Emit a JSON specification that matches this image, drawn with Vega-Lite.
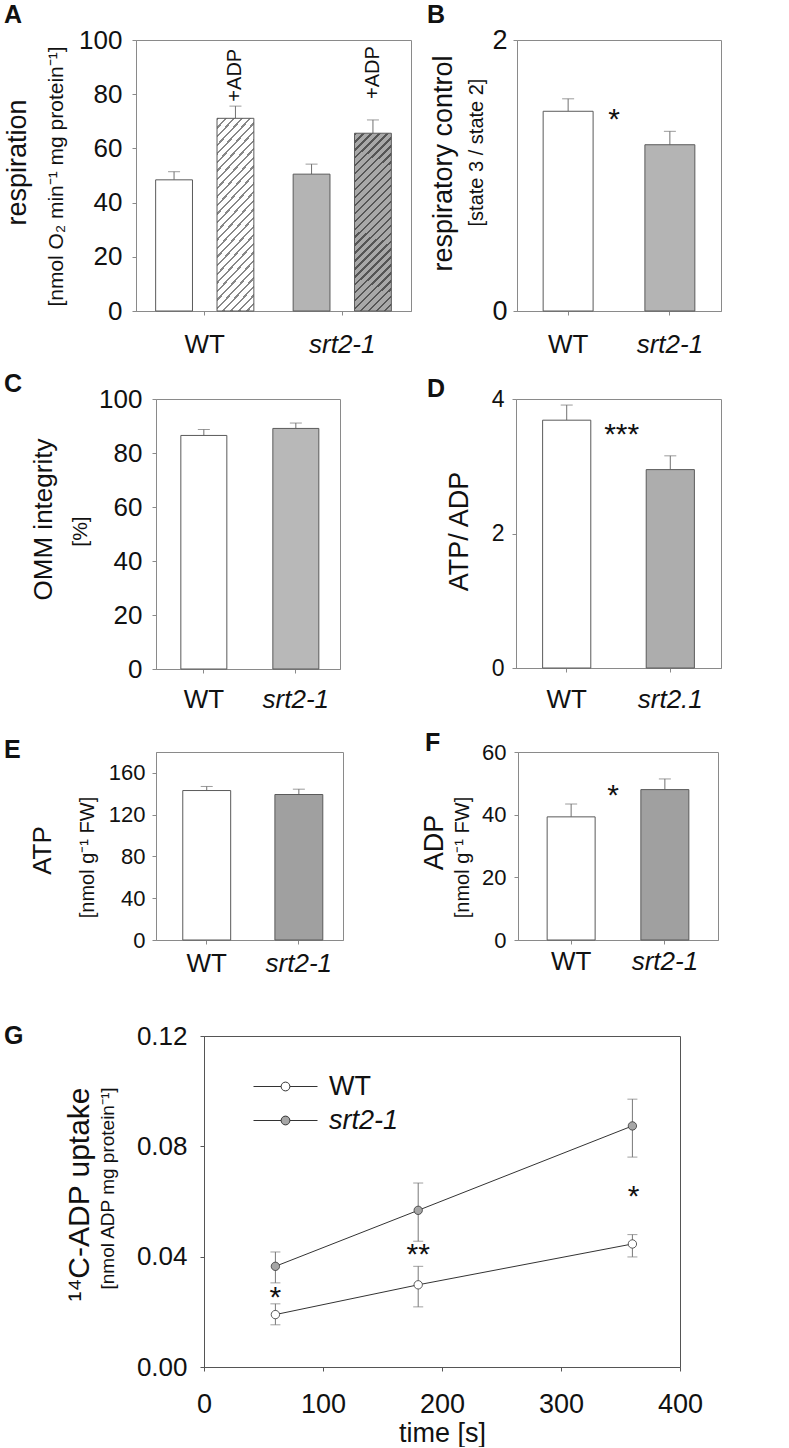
{
"$schema": "https://vega.github.io/schema/vega-lite/v6.json",
"background": "white",
"padding": {"left": 0, "top": 0, "right": 0, "bottom": 0},
"config": {
 "font": "Liberation Sans",
 "view": {"stroke": "#8a8a8a", "strokeWidth": 1},
 "axis": {"domainColor": "#8a8a8a", "tickColor": "#8a8a8a", "tickSize": 4, "labelColor": "#111111", "titleColor": "#111111", "titleFontWeight": "normal", "grid": false, "labelFont": "Liberation Sans", "titleFont": "Liberation Sans"},
 "title": {"font": "Liberation Sans", "fontWeight": "bold", "fontSize": 25, "color": "#111111", "anchor": "start", "frame": "group", "baseline": "alphabetic"},
 "text": {"font": "Liberation Sans", "color": "#111111"},
 "legend": {"labelFont": "Liberation Sans", "labelColor": "#111111"}
},
"resolve": {"scale": {"fill": "independent"}, "legend": {"fill": "independent"}},
"concat": [
 {"hconcat": [
  {"width": 3, "height": 1, "view": {"stroke": null}, "data": {"values": [{"a": 0}]}, "mark": {"type": "point", "size": 0, "opacity": 0, "strokeWidth": 0, "filled": true},
   "encoding": {"x": {"field": "a", "type": "quantitative", "axis": {"orient": "top", "labels": false, "ticks": false, "domainOpacity": 0, "title": null, "grid": false, "minExtent": 40, "maxExtent": 40}}}},
  {
   "title": {"text": "A", "dx": -132, "offset": -1},
   "width": 275, "height": 271,
   "data": {"values": [
     {"g": "WT", "t": "ctrl", "v": 48.4, "e": 51.4},
     {"g": "WT", "t": "ADP", "v": 71.1, "e": 75.6},
     {"g": "srt2-1", "t": "ctrl", "v": 50.5, "e": 54.2},
     {"g": "srt2-1", "t": "ADP", "v": 65.6, "e": 70.5}
   ]},
   "encoding": {
     "x": {"field": "g", "type": "nominal", "scale": {"domain": ["WT", "srt2-1"], "paddingInner": 0, "paddingOuter": 0},
       "axis": {"title": null, "labelAngle": 0, "labelFontSize": 26, "labelPadding": 16, "minExtent": 50, "maxExtent": 50, "labelFontStyle": {"condition": {"test": "datum.value !== 'WT'", "value": "italic"}, "value": "normal"}}},
     "xOffset": {"field": "t", "type": "nominal", "scale": {"domain": ["ctrl", "ADP"], "paddingInner": 0.4, "paddingOuter": 0.32}}
   },
   "layer": [
     {"mark": {"type": "rule", "color": "#707070"},
      "encoding": {
        "y": {"field": "v", "type": "quantitative", "scale": {"domain": [0, 100], "nice": false},
          "axis": {"orient": "left", "title": "[nmol O₂ min⁻¹ mg protein⁻¹]", "titleFontSize": 21, "titleX": -80, "titleY": 136, "titleAngle": 270, "titleBaseline": "middle", "titleAlign": "center", "labels": false, "ticks": false, "domain": false, "minExtent": 132, "maxExtent": 132}},
        "y2": {"field": "e"}}},
     {"layer": [
       {"transform": [{"filter": "datum.t === 'ctrl'"}],
        "mark": {"type": "bar", "stroke": "#5a5a5a", "strokeWidth": 1},
        "encoding": {
          "y": {"field": "v", "type": "quantitative", "scale": {"domain": [0, 100], "nice": false},
            "axis": {"orient": "left", "title": "respiration", "titleFontSize": 27, "titleX": -118.5, "titleY": 122, "titleAngle": 270, "titleBaseline": "middle", "titleAlign": "center", "values": [0, 20, 40, 60, 80, 100], "labelFontSize": 26, "labelPadding": 10}},
          "fill": {"field": "g", "type": "nominal", "scale": {"domain": ["WT", "srt2-1"], "range": ["#ffffff", "#b4b4b4"]}, "legend": null}}},
       {"transform": [{"filter": "datum.t === 'ADP' && datum.g === 'WT'"}],
        "mark": {"type": "bar", "stroke": "#5a5a5a", "strokeWidth": 1, "fill": {"gradient": "linear", "x1": 0, "y1": 0, "x2": 0.237, "y2": 1.157, "stops": [
{"offset":0,"color":"#888"},{"offset":0.01,"color":"#888"},{"offset":0.01,"color":"#fff"},{"offset":0.037,"color":"#fff"},
{"offset":0.037,"color":"#888"},{"offset":0.047,"color":"#888"},{"offset":0.047,"color":"#fff"},{"offset":0.0741,"color":"#fff"},
{"offset":0.0741,"color":"#888"},{"offset":0.0841,"color":"#888"},{"offset":0.0841,"color":"#fff"},{"offset":0.1111,"color":"#fff"},
{"offset":0.1111,"color":"#888"},{"offset":0.1211,"color":"#888"},{"offset":0.1211,"color":"#fff"},{"offset":0.1481,"color":"#fff"},
{"offset":0.1481,"color":"#888"},{"offset":0.1581,"color":"#888"},{"offset":0.1581,"color":"#fff"},{"offset":0.1852,"color":"#fff"},
{"offset":0.1852,"color":"#888"},{"offset":0.1952,"color":"#888"},{"offset":0.1952,"color":"#fff"},{"offset":0.2222,"color":"#fff"},
{"offset":0.2222,"color":"#888"},{"offset":0.2322,"color":"#888"},{"offset":0.2322,"color":"#fff"},{"offset":0.2593,"color":"#fff"},
{"offset":0.2593,"color":"#888"},{"offset":0.2693,"color":"#888"},{"offset":0.2693,"color":"#fff"},{"offset":0.2963,"color":"#fff"},
{"offset":0.2963,"color":"#888"},{"offset":0.3063,"color":"#888"},{"offset":0.3063,"color":"#fff"},{"offset":0.3333,"color":"#fff"},
{"offset":0.3333,"color":"#888"},{"offset":0.3433,"color":"#888"},{"offset":0.3433,"color":"#fff"},{"offset":0.3704,"color":"#fff"},
{"offset":0.3704,"color":"#888"},{"offset":0.3804,"color":"#888"},{"offset":0.3804,"color":"#fff"},{"offset":0.4074,"color":"#fff"},
{"offset":0.4074,"color":"#888"},{"offset":0.4174,"color":"#888"},{"offset":0.4174,"color":"#fff"},{"offset":0.4444,"color":"#fff"},
{"offset":0.4444,"color":"#888"},{"offset":0.4544,"color":"#888"},{"offset":0.4544,"color":"#fff"},{"offset":0.4815,"color":"#fff"},
{"offset":0.4815,"color":"#888"},{"offset":0.4915,"color":"#888"},{"offset":0.4915,"color":"#fff"},{"offset":0.5185,"color":"#fff"},
{"offset":0.5185,"color":"#888"},{"offset":0.5285,"color":"#888"},{"offset":0.5285,"color":"#fff"},{"offset":0.5556,"color":"#fff"},
{"offset":0.5556,"color":"#888"},{"offset":0.5656,"color":"#888"},{"offset":0.5656,"color":"#fff"},{"offset":0.5926,"color":"#fff"},
{"offset":0.5926,"color":"#888"},{"offset":0.6026,"color":"#888"},{"offset":0.6026,"color":"#fff"},{"offset":0.6296,"color":"#fff"},
{"offset":0.6296,"color":"#888"},{"offset":0.6396,"color":"#888"},{"offset":0.6396,"color":"#fff"},{"offset":0.6667,"color":"#fff"},
{"offset":0.6667,"color":"#888"},{"offset":0.6767,"color":"#888"},{"offset":0.6767,"color":"#fff"},{"offset":0.7037,"color":"#fff"},
{"offset":0.7037,"color":"#888"},{"offset":0.7137,"color":"#888"},{"offset":0.7137,"color":"#fff"},{"offset":0.7407,"color":"#fff"},
{"offset":0.7407,"color":"#888"},{"offset":0.7507,"color":"#888"},{"offset":0.7507,"color":"#fff"},{"offset":0.7778,"color":"#fff"},
{"offset":0.7778,"color":"#888"},{"offset":0.7878,"color":"#888"},{"offset":0.7878,"color":"#fff"},{"offset":0.8148,"color":"#fff"},
{"offset":0.8148,"color":"#888"},{"offset":0.8248,"color":"#888"},{"offset":0.8248,"color":"#fff"},{"offset":0.8519,"color":"#fff"},
{"offset":0.8519,"color":"#888"},{"offset":0.8619,"color":"#888"},{"offset":0.8619,"color":"#fff"},{"offset":0.8889,"color":"#fff"},
{"offset":0.8889,"color":"#888"},{"offset":0.8989,"color":"#888"},{"offset":0.8989,"color":"#fff"},{"offset":0.9259,"color":"#fff"},
{"offset":0.9259,"color":"#888"},{"offset":0.9359,"color":"#888"},{"offset":0.9359,"color":"#fff"},{"offset":0.963,"color":"#fff"},
{"offset":0.963,"color":"#888"},{"offset":0.973,"color":"#888"},{"offset":0.973,"color":"#fff"},{"offset":1,"color":"#fff"}
        ]}},
        "encoding": {"y": {"field": "v", "type": "quantitative"}}},
       {"transform": [{"filter": "datum.t === 'ADP' && datum.g === 'srt2-1'"}],
        "mark": {"type": "bar", "stroke": "#5a5a5a", "strokeWidth": 1, "fill": {"gradient": "linear", "x1": 0, "y1": 0, "x2": 0.237, "y2": 1.157, "stops": [
{"offset":0,"color":"#555"},{"offset":0.011,"color":"#555"},{"offset":0.011,"color":"#a8a8a8"},{"offset":0.037,"color":"#a8a8a8"},
{"offset":0.037,"color":"#555"},{"offset":0.048,"color":"#555"},{"offset":0.048,"color":"#a8a8a8"},{"offset":0.0741,"color":"#a8a8a8"},
{"offset":0.0741,"color":"#555"},{"offset":0.0851,"color":"#555"},{"offset":0.0851,"color":"#a8a8a8"},{"offset":0.1111,"color":"#a8a8a8"},
{"offset":0.1111,"color":"#555"},{"offset":0.1221,"color":"#555"},{"offset":0.1221,"color":"#a8a8a8"},{"offset":0.1481,"color":"#a8a8a8"},
{"offset":0.1481,"color":"#555"},{"offset":0.1591,"color":"#555"},{"offset":0.1591,"color":"#a8a8a8"},{"offset":0.1852,"color":"#a8a8a8"},
{"offset":0.1852,"color":"#555"},{"offset":0.1962,"color":"#555"},{"offset":0.1962,"color":"#a8a8a8"},{"offset":0.2222,"color":"#a8a8a8"},
{"offset":0.2222,"color":"#555"},{"offset":0.2332,"color":"#555"},{"offset":0.2332,"color":"#a8a8a8"},{"offset":0.2593,"color":"#a8a8a8"},
{"offset":0.2593,"color":"#555"},{"offset":0.2703,"color":"#555"},{"offset":0.2703,"color":"#a8a8a8"},{"offset":0.2963,"color":"#a8a8a8"},
{"offset":0.2963,"color":"#555"},{"offset":0.3073,"color":"#555"},{"offset":0.3073,"color":"#a8a8a8"},{"offset":0.3333,"color":"#a8a8a8"},
{"offset":0.3333,"color":"#555"},{"offset":0.3443,"color":"#555"},{"offset":0.3443,"color":"#a8a8a8"},{"offset":0.3704,"color":"#a8a8a8"},
{"offset":0.3704,"color":"#555"},{"offset":0.3814,"color":"#555"},{"offset":0.3814,"color":"#a8a8a8"},{"offset":0.4074,"color":"#a8a8a8"},
{"offset":0.4074,"color":"#555"},{"offset":0.4184,"color":"#555"},{"offset":0.4184,"color":"#a8a8a8"},{"offset":0.4444,"color":"#a8a8a8"},
{"offset":0.4444,"color":"#555"},{"offset":0.4554,"color":"#555"},{"offset":0.4554,"color":"#a8a8a8"},{"offset":0.4815,"color":"#a8a8a8"},
{"offset":0.4815,"color":"#555"},{"offset":0.4925,"color":"#555"},{"offset":0.4925,"color":"#a8a8a8"},{"offset":0.5185,"color":"#a8a8a8"},
{"offset":0.5185,"color":"#555"},{"offset":0.5295,"color":"#555"},{"offset":0.5295,"color":"#a8a8a8"},{"offset":0.5556,"color":"#a8a8a8"},
{"offset":0.5556,"color":"#555"},{"offset":0.5666,"color":"#555"},{"offset":0.5666,"color":"#a8a8a8"},{"offset":0.5926,"color":"#a8a8a8"},
{"offset":0.5926,"color":"#555"},{"offset":0.6036,"color":"#555"},{"offset":0.6036,"color":"#a8a8a8"},{"offset":0.6296,"color":"#a8a8a8"},
{"offset":0.6296,"color":"#555"},{"offset":0.6406,"color":"#555"},{"offset":0.6406,"color":"#a8a8a8"},{"offset":0.6667,"color":"#a8a8a8"},
{"offset":0.6667,"color":"#555"},{"offset":0.6777,"color":"#555"},{"offset":0.6777,"color":"#a8a8a8"},{"offset":0.7037,"color":"#a8a8a8"},
{"offset":0.7037,"color":"#555"},{"offset":0.7147,"color":"#555"},{"offset":0.7147,"color":"#a8a8a8"},{"offset":0.7407,"color":"#a8a8a8"},
{"offset":0.7407,"color":"#555"},{"offset":0.7517,"color":"#555"},{"offset":0.7517,"color":"#a8a8a8"},{"offset":0.7778,"color":"#a8a8a8"},
{"offset":0.7778,"color":"#555"},{"offset":0.7888,"color":"#555"},{"offset":0.7888,"color":"#a8a8a8"},{"offset":0.8148,"color":"#a8a8a8"},
{"offset":0.8148,"color":"#555"},{"offset":0.8258,"color":"#555"},{"offset":0.8258,"color":"#a8a8a8"},{"offset":0.8519,"color":"#a8a8a8"},
{"offset":0.8519,"color":"#555"},{"offset":0.8629,"color":"#555"},{"offset":0.8629,"color":"#a8a8a8"},{"offset":0.8889,"color":"#a8a8a8"},
{"offset":0.8889,"color":"#555"},{"offset":0.8999,"color":"#555"},{"offset":0.8999,"color":"#a8a8a8"},{"offset":0.9259,"color":"#a8a8a8"},
{"offset":0.9259,"color":"#555"},{"offset":0.9369,"color":"#555"},{"offset":0.9369,"color":"#a8a8a8"},{"offset":0.963,"color":"#a8a8a8"},
{"offset":0.963,"color":"#555"},{"offset":0.974,"color":"#555"},{"offset":0.974,"color":"#a8a8a8"},{"offset":1,"color":"#a8a8a8"}
        ]}},
        "encoding": {"y": {"field": "v", "type": "quantitative"}}},
       {"mark": {"type": "tick", "color": "#707070", "size": 12, "thickness": 1},
        "encoding": {"y": {"field": "e", "type": "quantitative"}}},
       {"data": {"values": [{"g": "WT", "t": "ADP", "y": 87, "label": "+ADP"}, {"g": "srt2-1", "t": "ADP", "y": 88, "label": "+ADP"}]},
        "mark": {"type": "text", "angle": 270, "fontSize": 20, "baseline": "middle", "align": "center"},
        "encoding": {"y": {"field": "y", "type": "quantitative"}, "text": {"field": "label"}}}
     ]}
   ],
   "resolve": {"scale": {"y": "independent"}}
  },
  {
   "title": {"text": "B", "dx": -90, "offset": -2},
   "width": 204, "height": 271,
   "data": {"values": [{"g": "WT", "v": 1.474, "e": 1.566}, {"g": "srt2-1", "v": 1.227, "e": 1.326}]},
   "encoding": {
     "x": {"field": "g", "type": "nominal", "scale": {"domain": ["WT", "srt2-1"], "paddingInner": 0.509, "paddingOuter": 0.257},
       "axis": {"title": null, "labelAngle": 0, "labelFontSize": 26, "labelPadding": 16, "minExtent": 50, "maxExtent": 50, "labelFontStyle": {"condition": {"test": "datum.value !== 'WT'", "value": "italic"}, "value": "normal"}}}
   },
   "layer": [
     {"mark": {"type": "rule", "color": "#707070"},
      "encoding": {
        "y": {"field": "v", "type": "quantitative", "scale": {"domain": [0, 2], "nice": false},
          "axis": {"orient": "left", "title": "[state 3 / state 2]", "titleFontSize": 20, "titleX": -41, "titleY": 112, "titleAngle": 270, "titleBaseline": "middle", "titleAlign": "center", "labels": false, "ticks": false, "domain": false, "minExtent": 104, "maxExtent": 104}},
        "y2": {"field": "e"}}},
     {"layer": [
       {"mark": {"type": "bar", "stroke": "#5a5a5a", "strokeWidth": 1},
        "encoding": {
          "y": {"field": "v", "type": "quantitative", "scale": {"domain": [0, 2], "nice": false},
            "axis": {"orient": "left", "title": "respiratory control", "titleFontSize": 27, "titleX": -74, "titleY": 123, "titleAngle": 270, "titleBaseline": "middle", "titleAlign": "center", "values": [0, 1, 2], "format": "d", "labelFontSize": 27, "labelPadding": 6}},
          "fill": {"field": "g", "type": "nominal", "scale": {"domain": ["WT", "srt2-1"], "range": ["#ffffff", "#b4b4b4"]}, "legend": null}}},
       {"mark": {"type": "tick", "color": "#707070", "size": 12, "thickness": 1},
        "encoding": {"y": {"field": "e", "type": "quantitative"}}},
       {"data": {"values": [{"g": "WT", "y": 1.41, "s": "*"}]},
        "mark": {"type": "text", "fontSize": 30, "baseline": "middle", "align": "center", "dx": 46},
        "encoding": {"y": {"field": "y", "type": "quantitative"}, "text": {"field": "s"}}}
     ]}
   ],
   "resolve": {"scale": {"y": "independent"}}
  }
 ], "spacing": 0, "resolve": {"scale": {"fill": "independent"}, "legend": {"fill": "independent"}}},
 {"hconcat": [
  {"width": 3, "height": 1, "view": {"stroke": null}, "data": {"values": [{"a": 0}]}, "mark": {"type": "point", "size": 0, "opacity": 0, "strokeWidth": 0, "filled": true},
   "encoding": {"x": {"field": "a", "type": "quantitative", "axis": {"orient": "top", "labels": false, "ticks": false, "domainOpacity": 0, "title": null, "grid": false, "minExtent": 37, "maxExtent": 37}}}},
  {
   "title": {"text": "C", "dx": -152, "offset": -11},
   "width": 184, "height": 270,
   "data": {"values": [{"g": "WT", "v": 86.5, "e": 88.7}, {"g": "srt2-1", "v": 89.1, "e": 91.1}]},
   "encoding": {
     "x": {"field": "g", "type": "nominal", "scale": {"domain": ["WT", "srt2-1"], "paddingInner": 0.5, "paddingOuter": 0.25, "align": 0.54},
       "axis": {"title": null, "labelAngle": 0, "labelFontSize": 26, "labelPadding": 13, "minExtent": 50, "maxExtent": 50, "labelFontStyle": {"condition": {"test": "datum.value !== 'WT'", "value": "italic"}, "value": "normal"}}}
   },
   "layer": [
     {"mark": {"type": "rule", "color": "#707070"},
      "encoding": {
        "y": {"field": "v", "type": "quantitative", "scale": {"domain": [0, 100], "nice": false},
          "axis": {"orient": "left", "title": "[%]", "titleFontSize": 21, "titleX": -76, "titleY": 132, "titleAngle": 270, "titleBaseline": "middle", "titleAlign": "center", "labels": false, "ticks": false, "domain": false, "minExtent": 152, "maxExtent": 152}},
        "y2": {"field": "e"}}},
     {"layer": [
       {"mark": {"type": "bar", "stroke": "#5a5a5a", "strokeWidth": 1},
        "encoding": {
          "y": {"field": "v", "type": "quantitative", "scale": {"domain": [0, 100], "nice": false},
            "axis": {"orient": "left", "title": "OMM integrity", "titleFontSize": 26, "titleX": -113, "titleY": 120, "titleAngle": 270, "titleBaseline": "middle", "titleAlign": "center", "values": [0, 20, 40, 60, 80, 100], "labelFontSize": 26, "labelPadding": 10}},
          "fill": {"field": "g", "type": "nominal", "scale": {"domain": ["WT", "srt2-1"], "range": ["#ffffff", "#b8b8b8"]}, "legend": null}}},
       {"mark": {"type": "tick", "color": "#707070", "size": 12, "thickness": 1},
        "encoding": {"y": {"field": "e", "type": "quantitative"}}}
     ]}
   ],
   "resolve": {"scale": {"y": "independent"}}
  },
  {
   "title": {"text": "D", "dx": -89, "offset": -14},
   "width": 205, "height": 269,
   "data": {"values": [{"g": "WT", "v": 3.685, "e": 3.91}, {"g": "srt2.1", "v": 2.95, "e": 3.155}]},
   "encoding": {
     "x": {"field": "g", "type": "nominal", "scale": {"domain": ["WT", "srt2.1"], "paddingInner": 0.535, "paddingOuter": 0.257},
       "axis": {"title": null, "labelAngle": 0, "labelFontSize": 26, "labelPadding": 14, "minExtent": 51, "maxExtent": 51, "labelFontStyle": {"condition": {"test": "datum.value !== 'WT'", "value": "italic"}, "value": "normal"}}}
   },
   "layer": [
     {"mark": {"type": "rule", "color": "#707070"},
      "encoding": {
        "y": {"field": "v", "type": "quantitative", "scale": {"domain": [0, 4], "nice": false},
          "axis": {"orient": "left", "title": "ATP/ ADP", "titleFontSize": 27, "titleX": -56.5, "titleY": 132, "titleAngle": 270, "titleBaseline": "middle", "titleAlign": "center", "values": [0, 2, 4], "format": "d", "labelFontSize": 23, "labelPadding": 8, "minExtent": 174, "maxExtent": 174}},
        "y2": {"field": "e"}}},
     {"mark": {"type": "bar", "stroke": "#5a5a5a", "strokeWidth": 1},
      "encoding": {
        "y": {"field": "v", "type": "quantitative"},
        "fill": {"field": "g", "type": "nominal", "scale": {"domain": ["WT", "srt2.1"], "range": ["#ffffff", "#adadad"]}, "legend": null}}},
     {"mark": {"type": "tick", "color": "#707070", "size": 12, "thickness": 1},
      "encoding": {"y": {"field": "e", "type": "quantitative"}}},
     {"data": {"values": [{"g": "WT", "y": 3.47, "s": "***"}]},
      "mark": {"type": "text", "fontSize": 30, "baseline": "middle", "align": "center", "dx": 55},
      "encoding": {"y": {"field": "y", "type": "quantitative"}, "text": {"field": "s"}}}
   ]
  }
 ], "spacing": 0, "resolve": {"scale": {"fill": "independent"}, "legend": {"fill": "independent"}}},
 {"hconcat": [
  {"width": 3, "height": 1, "view": {"stroke": null}, "data": {"values": [{"a": 0}]}, "mark": {"type": "point", "size": 0, "opacity": 0, "strokeWidth": 0, "filled": true},
   "encoding": {"x": {"field": "a", "type": "quantitative", "axis": {"orient": "top", "labels": false, "ticks": false, "domainOpacity": 0, "title": null, "grid": false, "minExtent": 32, "maxExtent": 32}}}},
  {
   "title": {"text": "E", "dx": -152, "offset": -11},
   "width": 187, "height": 188,
   "data": {"values": [{"g": "WT", "v": 143.1, "e": 147}, {"g": "srt2-1", "v": 139.3, "e": 144.4}]},
   "encoding": {
     "x": {"field": "g", "type": "nominal", "scale": {"domain": ["WT", "srt2-1"], "paddingInner": 0.48, "paddingOuter": 0.255, "align": 0.57},
       "axis": {"title": null, "labelAngle": 0, "labelFontSize": 26, "labelPadding": 6, "minExtent": 50, "maxExtent": 50, "labelFontStyle": {"condition": {"test": "datum.value !== 'WT'", "value": "italic"}, "value": "normal"}}}
   },
   "layer": [
     {"mark": {"type": "rule", "color": "#707070"},
      "encoding": {
        "y": {"field": "v", "type": "quantitative", "scale": {"domain": [0, 180], "nice": false},
          "axis": {"orient": "left", "title": "[nmol g⁻¹ FW]", "titleFontSize": 20, "titleX": -69, "titleY": 105, "titleAngle": 270, "titleBaseline": "middle", "titleAlign": "center", "labels": false, "ticks": false, "domain": false, "minExtent": 152, "maxExtent": 152}},
        "y2": {"field": "e"}}},
     {"layer": [
       {"mark": {"type": "bar", "stroke": "#5a5a5a", "strokeWidth": 1},
        "encoding": {
          "y": {"field": "v", "type": "quantitative", "scale": {"domain": [0, 180], "nice": false},
            "axis": {"orient": "left", "title": "ATP", "titleFontSize": 26, "titleX": -113.5, "titleY": 98, "titleAngle": 270, "titleBaseline": "middle", "titleAlign": "center", "values": [0, 40, 80, 120, 160], "labelFontSize": 22, "labelPadding": 7}},
          "fill": {"field": "g", "type": "nominal", "scale": {"domain": ["WT", "srt2-1"], "range": ["#ffffff", "#a0a0a0"]}, "legend": null}}},
       {"mark": {"type": "tick", "color": "#707070", "size": 12, "thickness": 1},
        "encoding": {"y": {"field": "e", "type": "quantitative"}}}
     ]}
   ],
   "resolve": {"scale": {"y": "independent"}}
  },
  {
   "title": {"text": "F", "dx": -93, "offset": -15},
   "width": 200, "height": 188,
   "data": {"values": [{"g": "WT", "v": 39.3, "e": 43.4}, {"g": "srt2-1", "v": 48.0, "e": 51.4}]},
   "encoding": {
     "x": {"field": "g", "type": "nominal", "scale": {"domain": ["WT", "srt2-1"], "paddingInner": 0.488, "paddingOuter": 0.311},
       "axis": {"title": null, "labelAngle": 0, "labelFontSize": 26, "labelPadding": 4, "minExtent": 50, "maxExtent": 50, "labelFontStyle": {"condition": {"test": "datum.value !== 'WT'", "value": "italic"}, "value": "normal"}}}
   },
   "layer": [
     {"mark": {"type": "rule", "color": "#707070"},
      "encoding": {
        "y": {"field": "v", "type": "quantitative", "scale": {"domain": [0, 60], "nice": false},
          "axis": {"orient": "left", "title": "[nmol g⁻¹ FW]", "titleFontSize": 20, "titleX": -56, "titleY": 105, "titleAngle": 270, "titleBaseline": "middle", "titleAlign": "center", "labels": false, "ticks": false, "domain": false, "minExtent": 173, "maxExtent": 173}},
        "y2": {"field": "e"}}},
     {"layer": [
       {"mark": {"type": "bar", "stroke": "#5a5a5a", "strokeWidth": 1},
        "encoding": {
          "y": {"field": "v", "type": "quantitative", "scale": {"domain": [0, 60], "nice": false},
            "axis": {"orient": "left", "title": "ADP", "titleFontSize": 27, "titleX": -83.5, "titleY": 90, "titleAngle": 270, "titleBaseline": "middle", "titleAlign": "center", "values": [0, 20, 40, 60], "labelFontSize": 22, "labelPadding": 8}},
          "fill": {"field": "g", "type": "nominal", "scale": {"domain": ["WT", "srt2-1"], "range": ["#ffffff", "#a0a0a0"]}, "legend": null}}},
       {"mark": {"type": "tick", "color": "#707070", "size": 12, "thickness": 1},
        "encoding": {"y": {"field": "e", "type": "quantitative"}}},
       {"data": {"values": [{"g": "WT", "y": 45.9, "s": "*"}]},
        "mark": {"type": "text", "fontSize": 30, "baseline": "middle", "align": "center", "dx": 42},
        "encoding": {"y": {"field": "y", "type": "quantitative"}, "text": {"field": "s"}}}
     ]}
   ],
   "resolve": {"scale": {"y": "independent"}}
  }
 ], "spacing": 0, "resolve": {"scale": {"fill": "independent"}, "legend": {"fill": "independent"}}},
 {"hconcat": [
  {"width": 3, "height": 1, "view": {"stroke": null}, "data": {"values": [{"a": 0}]}, "mark": {"type": "point", "size": 0, "opacity": 0, "strokeWidth": 0, "filled": true},
   "encoding": {"x": {"field": "a", "type": "quantitative", "axis": {"orient": "top", "labels": false, "ticks": false, "domainOpacity": 0, "title": null, "grid": false, "minExtent": 45, "maxExtent": 45}}}},
  {
   "title": {"text": "G", "dx": -200, "offset": -26},
   "width": 476, "height": 331,
   "view": {"stroke": "#555555"},
   "data": {"values": [
     {"t": 60, "g": "WT", "v": 0.0190, "lo": 0.0153, "hi": 0.0229},
     {"t": 180, "g": "WT", "v": 0.0298, "lo": 0.0218, "hi": 0.0365},
     {"t": 360, "g": "WT", "v": 0.0446, "lo": 0.0399, "hi": 0.0480},
     {"t": 60, "g": "srt2-1", "v": 0.0365, "lo": 0.0305, "hi": 0.0417},
     {"t": 180, "g": "srt2-1", "v": 0.0568, "lo": 0.0456, "hi": 0.0667},
     {"t": 360, "g": "srt2-1", "v": 0.0874, "lo": 0.0761, "hi": 0.0971}
   ]},
   "encoding": {
     "x": {"field": "t", "type": "quantitative", "scale": {"domain": [0, 400], "nice": false},
       "axis": {"values": [0, 100, 200, 300, 400], "labelFontSize": 27, "labelPadding": 20, "labelFlush": false, "labelOverlap": false, "title": "time [s]", "titleFontSize": 27, "titlePadding": 3, "domainColor": "#555555", "tickColor": "#555555"}}
   },
   "layer": [
     {"mark": {"type": "rule", "color": "#777777"},
      "encoding": {
        "y": {"field": "lo", "type": "quantitative", "scale": {"domain": [0, 0.12], "nice": false},
          "axis": {"orient": "left", "title": "[nmol ADP mg protein⁻¹]", "titleFontSize": 19, "titleX": -97, "titleY": 152, "titleAngle": 270, "titleBaseline": "middle", "titleAlign": "center", "labels": false, "ticks": false, "domain": false, "minExtent": 200, "maxExtent": 200}},
        "y2": {"field": "hi"}}},
     {"layer": [
       {"mark": {"type": "tick", "orient": "horizontal", "color": "#777777", "size": 10, "thickness": 1},
        "encoding": {"y": {"field": "lo", "type": "quantitative", "scale": {"domain": [0, 0.12], "nice": false},
          "axis": {"orient": "left", "title": "¹⁴C-ADP uptake", "titleFontSize": 30, "titleX": -125, "titleY": 158, "titleAngle": 270, "titleBaseline": "middle", "titleAlign": "center", "values": [0, 0.04, 0.08, 0.12], "format": ".2f", "labelFontSize": 26, "labelPadding": 13, "domainColor": "#555555", "tickColor": "#555555"}}}},
       {"mark": {"type": "tick", "orient": "horizontal", "color": "#777777", "size": 10, "thickness": 1},
        "encoding": {"y": {"field": "hi", "type": "quantitative"}}},
       {"mark": {"type": "line", "color": "#333333", "strokeWidth": 1},
        "encoding": {"y": {"field": "v", "type": "quantitative"}, "detail": {"field": "g", "type": "nominal"}}},
       {"mark": {"type": "point", "filled": true, "size": 70, "stroke": "#333333", "strokeWidth": 0.8, "opacity": 1},
        "encoding": {
          "y": {"field": "v", "type": "quantitative"},
          "fill": {"field": "g", "type": "nominal", "scale": {"domain": ["WT", "srt2-1"], "range": ["#ffffff", "#a6a6a6"]},
            "legend": {"orient": "none", "legendX": 68, "legendY": 37, "title": null, "symbolType": "M-4,0L-0.55,0M0.55,0L4,0M0.55,0A0.55,0.55,0,1,1,-0.55,0A0.55,0.55,0,1,1,0.55,0Z", "symbolSize": 256, "symbolStrokeColor": "#333333", "symbolStrokeWidth": 1, "labelFontSize": 27, "labelOffset": 30, "rowPadding": 6,
              "labelFontStyle": {"expr": "datum.value === 'srt2-1' ? 'italic' : 'normal'"}}}}},
       {"data": {"values": [{"t": 60, "y": 0.0251, "s": "*"}, {"t": 180, "y": 0.0405, "s": "**"}, {"t": 361, "y": 0.0616, "s": "*"}]},
        "mark": {"type": "text", "fontSize": 30, "baseline": "middle", "align": "center"},
        "encoding": {"x": {"field": "t", "type": "quantitative"}, "y": {"field": "y", "type": "quantitative"}, "text": {"field": "s"}}}
     ]}
   ],
   "resolve": {"scale": {"y": "independent"}}
  }
 ], "spacing": 0, "resolve": {"scale": {"fill": "independent"}, "legend": {"fill": "independent"}}}
],
"columns": 1,
"align": "none",
"spacing": 0
}
